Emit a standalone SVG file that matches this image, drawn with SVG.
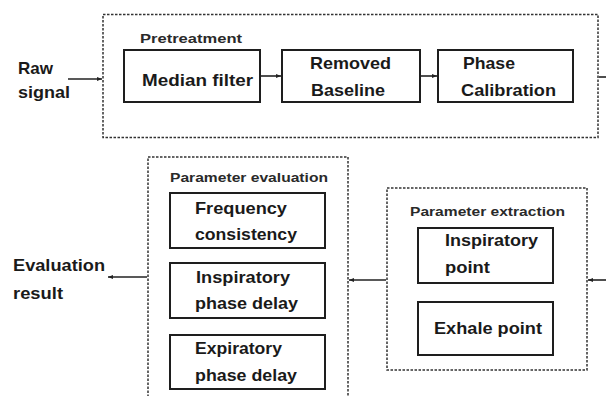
<svg xmlns="http://www.w3.org/2000/svg" width="606" height="396" viewBox="0 0 606 396">
  <style>
    .box { fill: #ffffff; stroke: #1e1e1e; stroke-width: 2; }
    .group { fill: none; stroke: #333333; stroke-width: 1.5; stroke-dasharray: 2.5 1.5; }
    .t { font-family: "Liberation Sans", Arial, sans-serif; font-weight: bold; font-size: 17px; fill: #1a1a1a; }
    .lbl { font-family: "Liberation Sans", Arial, sans-serif; font-weight: bold; font-size: 13px; fill: #2a2a2a; }
    .conn { fill: none; stroke: #222222; stroke-width: 1.6; }
  </style>
  <defs>
    <marker id="arr" viewBox="0 0 10 10" refX="10" refY="5" markerWidth="5" markerHeight="5" orient="auto" markerUnits="userSpaceOnUse">
      <path d="M0,1 L10,5 L0,9 z" fill="#222222"/>
    </marker>
  </defs>
  <rect width="606" height="396" fill="#ffffff"/>

  <g id="raw-signal">
    <text class="t" x="18" y="74" textLength="35" lengthAdjust="spacingAndGlyphs">Raw</text>
    <text class="t" x="18" y="98" textLength="52" lengthAdjust="spacingAndGlyphs">signal</text>
  </g>

  <g id="pretreatment">
    <rect class="group" x="103" y="14.5" width="495" height="123"/>
    <text class="lbl" x="140" y="43" textLength="102" lengthAdjust="spacingAndGlyphs">Pretreatment</text>
  </g>
  <g id="median-filter">
    <rect class="box" x="124" y="50" width="136" height="52"/>
    <text class="t" x="142" y="86" textLength="111" lengthAdjust="spacingAndGlyphs">Median filter</text>
  </g>
  <g id="removed-baseline">
    <rect class="box" x="282" y="50" width="138" height="52"/>
    <text class="t" x="310" y="69" textLength="81" lengthAdjust="spacingAndGlyphs">Removed</text>
    <text class="t" x="311" y="96" textLength="74" lengthAdjust="spacingAndGlyphs">Baseline</text>
  </g>
  <g id="phase-calibration">
    <rect class="box" x="438" y="50" width="135" height="52"/>
    <text class="t" x="463" y="69" textLength="52" lengthAdjust="spacingAndGlyphs">Phase</text>
    <text class="t" x="461" y="96" textLength="95" lengthAdjust="spacingAndGlyphs">Calibration</text>
  </g>

  <g id="parameter-evaluation">
    <rect class="group" x="148" y="157" width="200" height="250"/>
    <text class="lbl" x="170" y="182" textLength="158" lengthAdjust="spacingAndGlyphs">Parameter evaluation</text>
  </g>
  <g id="frequency-consistency">
    <rect class="box" x="170" y="193" width="155" height="55"/>
    <text class="t" x="195" y="214" textLength="92" lengthAdjust="spacingAndGlyphs">Frequency</text>
    <text class="t" x="195" y="240" textLength="102" lengthAdjust="spacingAndGlyphs">consistency</text>
  </g>
  <g id="inspiratory-phase-delay">
    <rect class="box" x="170" y="263" width="155" height="55"/>
    <text class="t" x="196" y="283" textLength="94" lengthAdjust="spacingAndGlyphs">Inspiratory</text>
    <text class="t" x="195" y="309" textLength="103" lengthAdjust="spacingAndGlyphs">phase delay</text>
  </g>
  <g id="expiratory-phase-delay">
    <rect class="box" x="170" y="335" width="155" height="54"/>
    <text class="t" x="195" y="354" textLength="87" lengthAdjust="spacingAndGlyphs">Expiratory</text>
    <text class="t" x="195" y="381" textLength="102" lengthAdjust="spacingAndGlyphs">phase delay</text>
  </g>

  <g id="parameter-extraction">
    <rect class="group" x="387" y="188" width="200" height="182"/>
    <text class="lbl" x="410" y="216" textLength="155" lengthAdjust="spacingAndGlyphs">Parameter extraction</text>
  </g>
  <g id="inspiratory-point">
    <rect class="box" x="418" y="228" width="135" height="55"/>
    <text class="t" x="445" y="246" textLength="93" lengthAdjust="spacingAndGlyphs">Inspiratory</text>
    <text class="t" x="445" y="273" textLength="45" lengthAdjust="spacingAndGlyphs">point</text>
  </g>
  <g id="exhale-point">
    <rect class="box" x="418" y="302" width="135" height="53"/>
    <text class="t" x="434" y="334" textLength="108" lengthAdjust="spacingAndGlyphs">Exhale point</text>
  </g>

  <g id="evaluation-result">
    <text class="t" x="13" y="271" textLength="92" lengthAdjust="spacingAndGlyphs">Evaluation</text>
    <text class="t" x="13" y="299" textLength="50" lengthAdjust="spacingAndGlyphs">result</text>
  </g>

  <g id="connectors">
    <line class="conn" x1="68" y1="79" x2="102" y2="79" marker-end="url(#arr)"/>
    <line class="conn" x1="261" y1="76" x2="281" y2="76" marker-end="url(#arr)"/>
    <line class="conn" x1="421" y1="76" x2="437" y2="76" marker-end="url(#arr)"/>
    <line class="conn" x1="599" y1="77" x2="606" y2="77"/>
    <line class="conn" x1="606" y1="280" x2="588" y2="280" marker-end="url(#arr)"/>
    <line class="conn" x1="386" y1="280" x2="349" y2="280" marker-end="url(#arr)"/>
    <line class="conn" x1="147" y1="277" x2="108" y2="277" marker-end="url(#arr)"/>
  </g>
</svg>
